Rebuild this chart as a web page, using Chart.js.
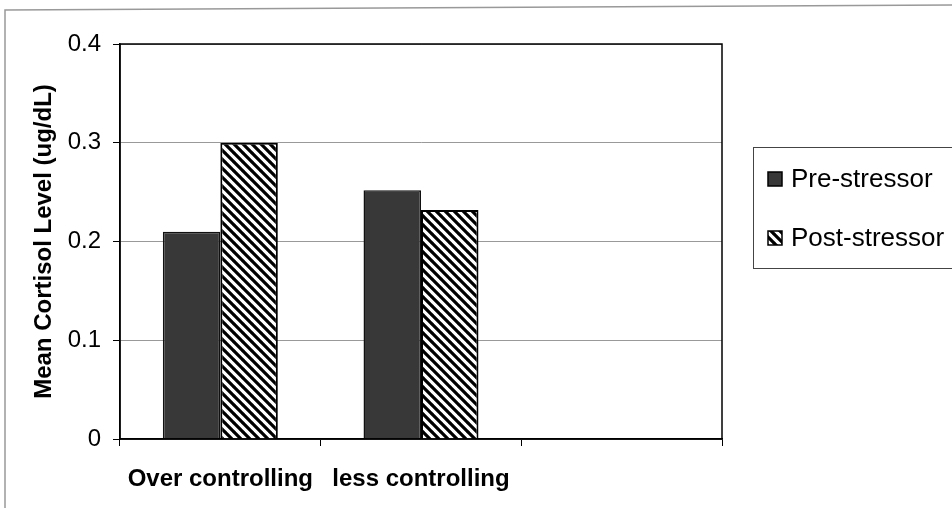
<!DOCTYPE html>
<html>
<head>
<meta charset="utf-8">
<script src="https://cdn.jsdelivr.net/npm/chart.js@4"></script>
<style>
html,body{margin:0;padding:0;background:#fff;}
#wrap{width:952px;height:508px;position:relative;}
</style>
</head>
<body>
<div id="wrap"><canvas id="c" width="952" height="508"></canvas></div>
<script>
const categories = ["Over controlling", "less controlling", ""];
const preStressor = [0.21, 0.252, null];
const postStressor = [0.30, 0.232, null];
const yTicks = [0, 0.1, 0.2, 0.3, 0.4];
const seriesLabels = ["Pre-stressor", "Post-stressor"];
const yTitle = "Mean Cortisol Level (ug/dL)";

function hatch() {
  const s = 9;
  const c = document.createElement('canvas');
  c.width = s; c.height = s;
  const g = c.getContext('2d');
  g.fillStyle = '#fff';
  g.fillRect(0, 0, s, s);
  g.strokeStyle = '#000';
  g.lineWidth = 3.2;
  g.beginPath();
  for (let k = -1; k <= 1; k++) {
    g.moveTo(k * s - 1, -1);
    g.lineTo(k * s + s + 1, s + 1);
  }
  g.stroke();
  return g.createPattern(c, 'repeat');
}
const ctx0 = document.getElementById('c').getContext('2d');
const hatchPattern = hatch();
const darkFill = '#383838';

const framePlugin = {
  id: 'frame',
  afterDraw(chart) {
    const ctx = chart.ctx;
    const a = chart.chartArea;
    ctx.save();
    ctx.strokeStyle = '#000';
    ctx.lineWidth = 1.5;
    ctx.strokeRect(a.left, a.top, a.right - a.left, a.bottom - a.top);
    ctx.strokeStyle = '#999';
    ctx.lineWidth = 1.5;
    ctx.beginPath();
    ctx.moveTo(5, 508);
    ctx.lineTo(5, 10);
    ctx.lineTo(952, 5);
    ctx.stroke();
    const lx = 753, ly = 147, lw = 210, lh = 121;
    ctx.strokeStyle = '#444';
    ctx.lineWidth = 1;
    ctx.strokeRect(lx + 0.5, ly + 0.5, lw, lh);
    const fills = [darkFill, hatchPattern];
    const rows = [179, 238];
    ctx.font = '26px "Liberation Sans", Arial, sans-serif';
    ctx.textBaseline = 'middle';
    ctx.textAlign = 'left';
    for (let i = 0; i < seriesLabels.length; i++) {
      const y = rows[i];
      ctx.fillStyle = fills[i];
      ctx.fillRect(768, y - 7, 14, 14);
      ctx.strokeStyle = '#000';
      ctx.lineWidth = 1.5;
      ctx.strokeRect(768, y - 7, 14, 14);
      ctx.fillStyle = '#000';
      ctx.fillText(seriesLabels[i], 791, y + 1);
    }
    ctx.restore();
  }
};

new Chart(ctx0, {
  type: 'bar',
  data: {
    labels: categories,
    datasets: [
      { label: seriesLabels[0], data: preStressor, backgroundColor: darkFill, borderColor: '#111', borderWidth: 1.5 },
      { label: seriesLabels[1], data: postStressor, backgroundColor: hatchPattern, borderColor: '#000', borderWidth: 2 }
    ]
  },
  options: {
    responsive: false,
    animation: false,
    devicePixelRatio: 1,
    layout: { padding: { left: 30, right: 230, top: 44, bottom: 0 } },
    datasets: { bar: { categoryPercentage: 0.573, barPercentage: 1.0 } },
    plugins: { legend: { display: false }, tooltip: { enabled: false } },
    scales: {
      x: {
        offset: true,
        grid: { display: true, offset: true, drawOnChartArea: false, drawTicks: true, tickLength: 7, tickColor: '#000', color: '#000' },
        border: { display: true, color: '#000', width: 1.5 },
        ticks: {
          color: '#000',
          padding: 19,
          maxRotation: 0,
          autoSkip: false,
          font: { family: '"Liberation Sans", Arial, sans-serif', size: 24, weight: 'bold' }
        },
        afterFit(scale) { scale.height = 69; }
      },
      y: {
        min: 0, max: 0.4,
        afterBuildTicks(scale) { scale.ticks = yTicks.map(v => ({ value: v })); },
        grid: { color: '#999', lineWidth: 1, drawTicks: true, tickLength: 7, tickColor: '#000' },
        border: { display: true, color: '#000', width: 1.5 },
        ticks: {
          color: '#000',
          padding: 12,
          font: { family: '"Liberation Sans", Arial, sans-serif', size: 24 },
          callback(v) { return String(+v.toFixed(1)); }
        },
        title: {
          display: true,
          text: yTitle,
          color: '#000',
          padding: { top: 0, bottom: 0 },
          font: { family: '"Liberation Sans", Arial, sans-serif', size: 24, weight: 'bold' }
        },
        afterFit(scale) { scale.width = 120 - 30; }
      }
    }
  },
  plugins: [framePlugin]
});
</script>
</body>
</html>
